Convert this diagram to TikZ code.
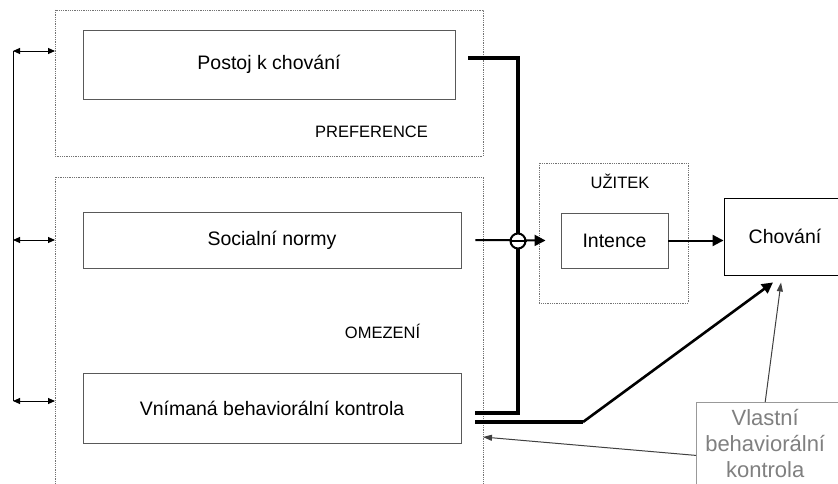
\documentclass[tikz,border=0pt]{standalone}
\usepackage{fontspec}
\setmainfont{Liberation Sans}
\usetikzlibrary{arrows.meta}
\tikzset{
    box/.style={draw=black!65, line width=.9pt, inner sep=0pt},
    grp/.style={draw=black!55, densely dotted, line width=.8pt},
    grplabel/.style={font=\fontsize{16.5}{18}\selectfont},
    thickline/.style={line width=3.2pt},
    bigtip/.style={-{Triangle[length=11pt, width=11pt]}},
}
\begin{document}
\begin{tikzpicture}[x=1pt, y=-1pt, font=\fontsize{19.5}{22}\selectfont]
        \clip (0, 0) rectangle (838, 484);
        \fill[white] (0, 0) rectangle (838, 484);
        % groups
        \draw[grp] (55, 10) rectangle (483, 156);
        \draw[grp] (55, 500) |- (483, 177) -- (483, 500);
        \draw[grp] (539, 163) rectangle (688, 303);
        \node[grplabel] (pref) at (371.5, 132) {PREFERENCE};
        \node[grplabel] (omez) at (382.5, 331) {OMEZENÍ};
        \node[grplabel] (uzit) at (620, 181) {UŽITEK};
        % boxes
        \node[box, minimum width=372pt, minimum height=69pt] (postoj) at (269, 64.5) {Postoj k chování};
        \node[box, minimum width=378pt, minimum height=56pt] (normy) at (272, 240) {Socialní normy};
        \node[box, minimum width=378pt, minimum height=70pt] (kontrola) at (272, 408) {Vnímaná behaviorální kontrola};
        \node[box, minimum width=107pt, minimum height=55pt] (intence) at (614.5, 240.5) {Intence};
        \node[box, draw=black, minimum width=122pt, minimum height=77pt] (chovani) at (785, 236.5) {Chování};
        \node[anchor=north west, text width=138pt, inner xsep=0pt, inner ysep=7pt, align=center,
              text=black!50, font=\fontsize{22}{26}\selectfont] (vlastni) at (696, 402) {Vlastní\\behaviorální\\kontrola};
        \draw[black!40, line width=.9pt] (696, 500) |- (850, 402);
        % left bracket
        \draw[line width=.9pt] (13, 401) -- (13, 51);
        \foreach \y in {51, 240, 401} {
                \coordinate (l\y) at (13, \y);
                \coordinate (r\y) at (55, \y);
                \draw[line width=.9pt, {Triangle[length=7pt, width=6pt]}-{Triangle[length=7pt, width=6pt]}] (l\y) -- (r\y);
            }
        % thick lines
        \coordinate (j1) at (518, 58);
        \coordinate (j2) at (518, 413);
        \coordinate (k2) at (583, 422);
        \draw[thickline, line join=miter] ([xshift=13pt, yshift=6.5pt]postoj.east) -- (j1) -- (j2) -- ([xshift=14pt, yshift=-5pt]kontrola.east);
        \draw[thickline] ([xshift=14pt, yshift=-14pt]kontrola.east) -- (k2);
        \draw[line width=2.6pt, bigtip] (k2) -- ([xshift=-12pt, yshift=-7pt]chovani.south);
        \draw[line width=2pt, bigtip] ([xshift=14pt]normy.east) -- ([xshift=-15pt]intence.west);
        \node[circle, draw, fill=white, line width=2pt, minimum size=15pt, inner sep=0pt] (knot) at (518, 241) {};
        \draw[line width=2pt] (knot.west) -- (knot.east);
        \draw[line width=2pt, bigtip] (intence.east) -- (intence.east -| chovani.west);
        % own control
        \draw[black!75, line width=1pt, -{Triangle[length=9pt, width=6pt]}] (vlastni.north) -- ([xshift=-4pt, yshift=-7pt]chovani.south);
        \draw[black!75, line width=1pt, -{Triangle[length=9pt, width=6pt]}] ([yshift=-12pt]vlastni.west) -- (483, 437);
    \end{tikzpicture}
\end{document}
